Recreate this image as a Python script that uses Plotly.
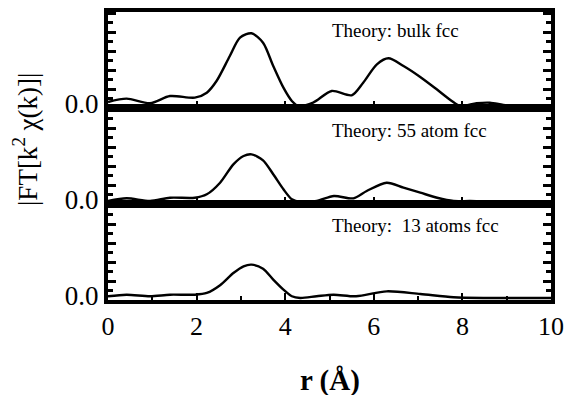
import plotly.graph_objects as go

# r (Å) sample positions and |FT| magnitudes (arb. units, bulk peak = 1)
r_bulk = [0.0, 0.42, 0.95, 1.4, 1.96, 2.23, 2.45, 2.75, 2.98, 3.24, 3.5, 3.73, 3.96, 4.15, 4.3,
          4.63, 5.05, 5.5, 5.76, 6.07, 6.33, 6.67, 7.04, 7.42, 7.76, 7.95, 8.32, 8.62, 9.0, 9.5, 10.0]
ft_bulk = [0.08, 0.125, 0.063, 0.16, 0.138, 0.205, 0.361, 0.696, 0.941, 1.0, 0.874, 0.562, 0.272, 0.094, 0.027,
           0.071, 0.228, 0.17, 0.339, 0.585, 0.665, 0.562, 0.419, 0.25, 0.094, 0.027, 0.063, 0.071, 0.036, 0.033, 0.027]

r_55 = [0.0, 0.42, 0.95, 1.4, 1.96, 2.23, 2.53, 2.83, 3.06, 3.24, 3.5, 3.73, 3.96, 4.15, 4.34,
        4.71, 5.1, 5.54, 5.84, 6.29, 6.67, 7.05, 7.43, 7.8, 8.18, 9.0, 10.0]
ft_55 = [0.04, 0.076, 0.04, 0.084, 0.084, 0.13, 0.285, 0.531, 0.643, 0.665, 0.585, 0.398, 0.197, 0.063, 0.027,
         0.04, 0.107, 0.076, 0.174, 0.285, 0.218, 0.151, 0.084, 0.04, 0.04, 0.027, 0.027]

r_13 = [0.0, 0.42, 0.95, 1.4, 1.96, 2.23, 2.53, 2.83, 3.06, 3.24, 3.5, 3.73, 3.96, 4.15, 4.34,
        4.71, 5.09, 5.6, 6.29, 7.05, 7.8, 8.6, 10.0]
ft_13 = [0.05, 0.071, 0.05, 0.071, 0.071, 0.094, 0.197, 0.361, 0.451, 0.473, 0.419, 0.272, 0.138, 0.05, 0.027,
         0.05, 0.071, 0.05, 0.116, 0.08, 0.036, 0.027, 0.027]

panel_labels = ["Theory: bulk fcc", "Theory: 55 atom fcc", "Theory:  13 atoms fcc"]
x_tickvals = [0, 2, 4, 6, 8, 10]
x_ticktext = ["0", "2", "4", "6", "8", "10"]
y_major_step = 0.254
y_n_major = 6
y_max = 1.285

FONT = "Liberation Serif, Times New Roman, serif"

fig = go.Figure()
series = [(r_bulk, ft_bulk), (r_55, ft_55), (r_13, ft_13)]
domains = [[2/3, 1.0], [1/3, 2/3], [0.0, 1/3]]

y_tickvals = [i * y_major_step for i in range(y_n_major)]
y_ticktext = ["0.0"] + [""] * (y_n_major - 1)

layout = dict(
    width=568, height=395,
    margin=dict(l=108, r=17, t=12, b=95, autoexpand=False),
    paper_bgcolor="white", plot_bgcolor="white",
    showlegend=False,
    font=dict(family=FONT, color="black", size=24),
)

for i, (xs, ys) in enumerate(series):
    n = "" if i == 0 else str(i + 1)
    fig.add_trace(go.Scatter(x=xs, y=ys, mode="lines", line=dict(color="black", width=2.4, shape="spline", smoothing=0.8),
                             xaxis="x" + n, yaxis="y" + n, hoverinfo="skip"))
    last = (i == 2)
    layout["xaxis" + n] = dict(
        range=[0, 10], anchor="y" + n, domain=[0, 1], automargin=False,
        showline=True, linecolor="black", linewidth=4, mirror=True,
        ticks="inside", ticklen=7, tickwidth=2, tickcolor="black",
        tickmode="array", tickvals=x_tickvals, ticktext=x_ticktext,
        showticklabels=last, tickfont=dict(family=FONT, size=26),
        minor=dict(dtick=1, ticks="inside", ticklen=4, tickwidth=2, tickcolor="black"),
        showgrid=False, zeroline=False, fixedrange=True,
    )
    layout["yaxis" + n] = dict(
        range=[0, y_max], anchor="x" + n, domain=domains[i], automargin=False,
        showline=True, linecolor="black", linewidth=4, mirror="ticks",
        ticks="inside", ticklen=8, tickwidth=2.5, tickcolor="black",
        tickmode="array", tickvals=y_tickvals, ticktext=y_ticktext,
        tickfont=dict(family=FONT, size=27), ticklabelshift=-4,
        minor=dict(dtick=y_major_step / 2, tick0=0, ticks="inside", ticklen=5, tickwidth=2.5, tickcolor="black"),
        showgrid=False, zeroline=False, fixedrange=True,
    )

annotations = []
label_y = [0.9375, 0.59, 0.26]
for txt, yy in zip(panel_labels, label_y):
    annotations.append(dict(text=txt, x=0.5, y=yy, xref="paper", yref="paper", xanchor="left", yanchor="middle",
                            showarrow=False, font=dict(family=FONT, size=19, color="black")))
annotations.append(dict(text="|FT[k<sup>2</sup> χ(k)]|", x=-0.187, y=0.556, xref="paper", yref="paper",
                        textangle=-90, xanchor="center", yanchor="middle", showarrow=False,
                        font=dict(family=FONT, size=27, color="black")))
annotations.append(dict(text="<b>r (Å)</b>", x=0.5, y=-0.278, xref="paper", yref="paper",
                        xanchor="center", yanchor="middle", showarrow=False,
                        font=dict(family=FONT, size=29, color="black")))
layout["annotations"] = annotations

fig.update_layout(**layout)
fig.write_html("out.html")
